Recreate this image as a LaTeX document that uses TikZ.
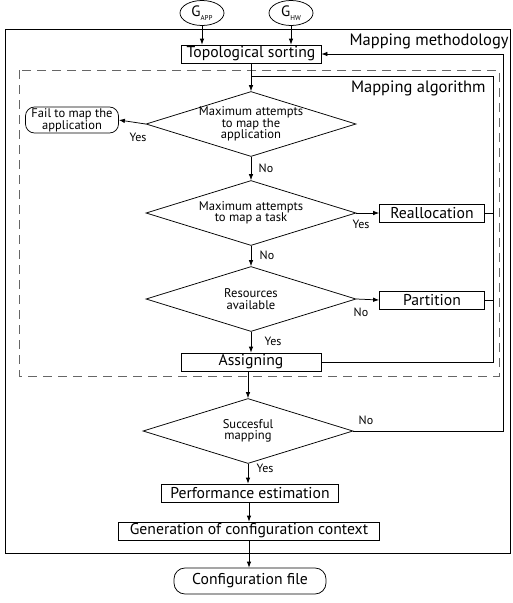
\documentclass[tikz,border=0pt]{standalone}
\usepackage{fontspec}
\setmainfont{PT Sans}
\usetikzlibrary{shapes.geometric,arrows.meta}
\begin{document}
\begin{tikzpicture}[x=1pt,y=-1pt,
  line width=0.75pt,
  every node/.style={inner sep=0pt},
  arr/.style={-{Latex[length=6pt,width=4.5pt]}},
  box/.style={draw,rectangle,minimum height=18pt,font=\fontsize{15.7}{16}\selectfont},
  rbox/.style={draw,rectangle,rounded corners=9pt,align=center},
  dec/.style={draw,diamond,minimum width=210pt,minimum height=65pt},
  dtext/.style={align=center,font=\fontsize{12.6}{11.5}\selectfont},
  lbl/.style={font=\fontsize{12}{12}\selectfont},
  ttl/.style={font=\fontsize{16.5}{17}\selectfont,anchor=east},
  gnode/.style={draw,ellipse,minimum width=44pt,minimum height=25pt,font=\fontsize{15}{15}\selectfont}
]
\useasboundingbox (0,0) rectangle (512,603);

% frames
\draw (5,29) rectangle (510,553);
\draw[gray!80!black,dash pattern=on 9pt off 6pt] (19,70) rectangle (499,376);
\node[ttl] (tmeth) at (509,41) {Mapping methodology};
\node[ttl] (talg) at (486,88) {Mapping algorithm};

% inputs
\node[gnode] (gapp) at (202,13) {G\raisebox{-3.5pt}{\fontsize{7}{7}\selectfont APP}};
\node[gnode] (ghw) at (291,13) {G\raisebox{-3.5pt}{\fontsize{7}{7}\selectfont HW}};

% boxes
\node[box,minimum width=140pt] (topo) at (251,54) {Topological sorting};
\node[dec,label={[dtext]center:Maximum attempts\\to map the\\application}] (d1) at (251,124) {};
\node[rbox,minimum width=93pt,minimum height=26pt,font=\fontsize{12.5}{10.5}\selectfont] (fail) at (72,120) {Fail to map the\\application};
\node[dec,label={[dtext]center:Maximum attempts\\to map a task}] (d2) at (251,213) {};
\node[box,minimum width=105pt] (realloc) at (432,213) {Reallocation};
\node[dec,label={[dtext]center:Resources\\available}] (d3) at (251,299) {};
\node[box,minimum width=105pt] (part) at (432,300) {Partition};
\node[box,minimum width=140pt] (assign) at (251,362) {Assigning};
\node[dec,label={[dtext]center:Succesful\\mapping}] (d4) at (248,431) {};
\node[box,minimum width=177pt] (perf) at (250,493) {Performance estimation};
\node[box,minimum width=261pt] (gen) at (249,531) {Generation of configuration context};
\node[rbox,minimum width=152pt,minimum height=26pt,rounded corners=11pt,font=\fontsize{15.7}{16}\selectfont] (conf) at (250,581) {Configuration file};

% loop coordinates
\coordinate (jin) at (251,76);
\coordinate (rin) at (493,76);
\coordinate (rout) at (503,54);

% connectors
\draw[arr] (gapp) -- (gapp |- topo.north);
\draw[arr] (ghw) -- (ghw |- topo.north);
\draw[arr] (topo) -- (d1.north);
\draw[arr] (d1.west) -- (fail.east);
\draw[arr] (d1.south) -- (d2.north);
\draw[arr] (d2.east) -- (realloc.west);
\draw[arr] (d2.south) -- (d3.north);
\draw[arr] (d3.east) -- (part.west);
\draw[arr] (d3.south) -- (assign.north);
\draw (assign.east) -| (rin) -- (jin);
\draw (realloc.east) -- (realloc.east -| rin);
\draw (part.east) -- (part.east -| rin);
\draw[arr] (assign.south -| d4.north) -- (d4.north);
\draw[arr] (d4.east) -| (rout) -- (topo.east);
\draw[arr] (d4.south) -- (perf.north -| d4.south);
\draw[arr] (perf.south -| gen.north) -- (gen.north);
\draw[arr] (gen.south) -- (conf.north -| gen.south);

% labels
\node[lbl] (l1) at (138,137) {Yes};
\node[lbl] (l2) at (266,168) {No};
\node[lbl] (l3) at (361,224) {Yes};
\node[lbl] (l4) at (267,255) {No};
\node[lbl] (l5) at (361,312) {No};
\node[lbl] (l6) at (273,341) {Yes};
\node[lbl] (l7) at (366,420) {No};
\node[lbl] (l8) at (265,468) {Yes};
\end{tikzpicture}
\end{document}
